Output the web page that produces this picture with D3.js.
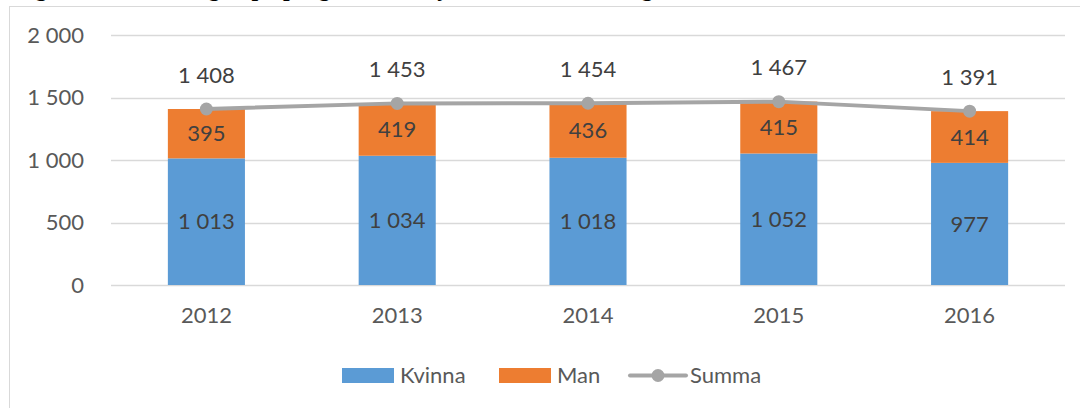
<!DOCTYPE html>
<html><head><meta charset="utf-8">
<script src="https://cdn.jsdelivr.net/npm/d3@7"></script>
<style>
html,body{margin:0;padding:0;background:#fff;overflow:hidden;}
svg{display:block;}
</style></head>
<body>
<svg id="chart" width="1080" height="408"></svg>
<script>
const years = ["2012","2013","2014","2015","2016"];
const kvinna = [1013, 1034, 1018, 1052, 977];
const man = [395, 419, 436, 415, 414];
const summa = [1408, 1453, 1454, 1467, 1391];
const yTicks = [0, 500, 1000, 1500, 2000];
const seriesNames = ["Kvinna", "Man", "Summa"];

const colors = {Kvinna:"#5b9bd5", Man:"#ed7d31", Summa:"#a5a5a5"};
const fmt = v => d3.format(",")(v).replace(/,/g, " ");
const font = "Lato, 'Open Sans', sans-serif";
const fs = 22;

const svg = d3.select("#chart");
const W = 1080, H = 408;

// cropped title line at top (only descenders visible, as in the reference)
svg.append("text").attr("x", 14).attr("y", -4)
  .attr("font-family", "'Liberation Serif', serif").attr("font-weight", "bold")
  .attr("font-size", 24).attr("fill", "#000")
  .text("Figur 5. Antal antagna på program inom yrkesförarutbildning, 2012–2016");

// chart frame
svg.append("rect").attr("x", 9.5).attr("y", 6.5).attr("width", W + 10).attr("height", H + 10)
  .attr("fill", "#fff").attr("stroke", "#d9d9d9").attr("stroke-width", 1);

const plot = {left: 111, right: 1065, top: 35, bottom: 285};
const x = d3.scaleBand().domain(years).range([plot.left, plot.right]).paddingInner(0.596).paddingOuter(0.298);
const y = d3.scaleLinear().domain([0, 2000]).range([plot.bottom, plot.top]);

// gridlines
svg.append("g").selectAll("line").data(yTicks).join("line")
  .attr("x1", plot.left).attr("x2", plot.right)
  .attr("y1", d => Math.round(y(d)) + 0.5).attr("y2", d => Math.round(y(d)) + 0.5)
  .attr("stroke", "#d9d9d9").attr("stroke-width", 1.3);

// y axis labels
const yAxis = d3.axisLeft(y).tickValues(yTicks).tickFormat(fmt).tickSize(0).tickPadding(0);
const ya = svg.append("g").attr("transform", `translate(${plot.left - 27},0)`).call(yAxis);
ya.select(".domain").remove();
ya.selectAll("text").attr("font-family", font).attr("font-size", fs).attr("fill", "#595959");

// x axis labels
const xAxis = d3.axisBottom(x).tickSize(0).tickPadding(0);
const xa = svg.append("g").attr("transform", `translate(0,${plot.bottom + 22})`).call(xAxis);
xa.select(".domain").remove();
xa.selectAll("text").attr("font-family", font).attr("font-size", fs).attr("fill", "#595959");

// stacked bars
const data = years.map((yr, i) => ({year: yr, Kvinna: kvinna[i], Man: man[i], Summa: summa[i]}));
const stack = d3.stack().keys(["Kvinna", "Man"])(data);
const layers = svg.append("g").selectAll("g").data(stack).join("g").attr("fill", d => colors[d.key]);
layers.selectAll("rect").data(d => d).join("rect")
  .attr("x", d => x(d.data.year)).attr("width", x.bandwidth())
  .attr("y", d => y(d[1])).attr("height", d => y(d[0]) - y(d[1]));

// bar labels
layers.selectAll("text").data(d => d).join("text")
  .attr("x", d => x(d.data.year) + x.bandwidth() / 2)
  .attr("y", d => (y(d[0]) + y(d[1])) / 2)
  .attr("dy", "0.35em").attr("text-anchor", "middle")
  .attr("font-family", font).attr("font-size", fs).attr("fill", "#404040")
  .text(d => fmt(d[1] - d[0]));

// summa line
const cx = d => x(d.year) + x.bandwidth() / 2;
const line = d3.line().x(cx).y(d => y(d.Summa));
svg.append("path").datum(data).attr("d", line).attr("fill", "none")
  .attr("stroke", colors.Summa).attr("stroke-width", 4).attr("stroke-linejoin", "round");
svg.append("g").selectAll("circle").data(data).join("circle")
  .attr("cx", cx).attr("cy", d => y(d.Summa)).attr("r", 6.5).attr("fill", colors.Summa);
svg.append("g").selectAll("text").data(data).join("text")
  .attr("x", cx).attr("y", d => y(d.Summa) - 34).attr("dy", "0.35em")
  .attr("text-anchor", "middle").attr("font-family", font).attr("font-size", fs).attr("fill", "#404040")
  .text(d => fmt(d.Summa));

// legend
const leg = svg.append("g").attr("font-family", font).attr("font-size", fs).attr("fill", "#595959");
const legItems = [
  {name: seriesNames[0], x: 342, type: "rect"},
  {name: seriesNames[1], x: 499, type: "rect"},
  {name: seriesNames[2], x: 630, type: "line"}
];
const ly = 375.5;
legItems.forEach(it => {
  if (it.type === "rect") {
    leg.append("rect").attr("x", it.x).attr("y", ly - 7.5).attr("width", 52).attr("height", 15).attr("fill", colors[it.name]);
  } else {
    leg.append("line").attr("x1", it.x).attr("x2", it.x + 56).attr("y1", ly).attr("y2", ly)
      .attr("stroke", colors.Summa).attr("stroke-width", 4).attr("stroke-linecap", "round");
    leg.append("circle").attr("cx", it.x + 28).attr("cy", ly).attr("r", 6.5).attr("fill", colors.Summa);
  }
  leg.append("text").attr("x", it.x + (it.type === "rect" ? 58 : 60)).attr("y", ly).attr("dy", "0.35em").text(it.name);
});
</script>
</body></html>
